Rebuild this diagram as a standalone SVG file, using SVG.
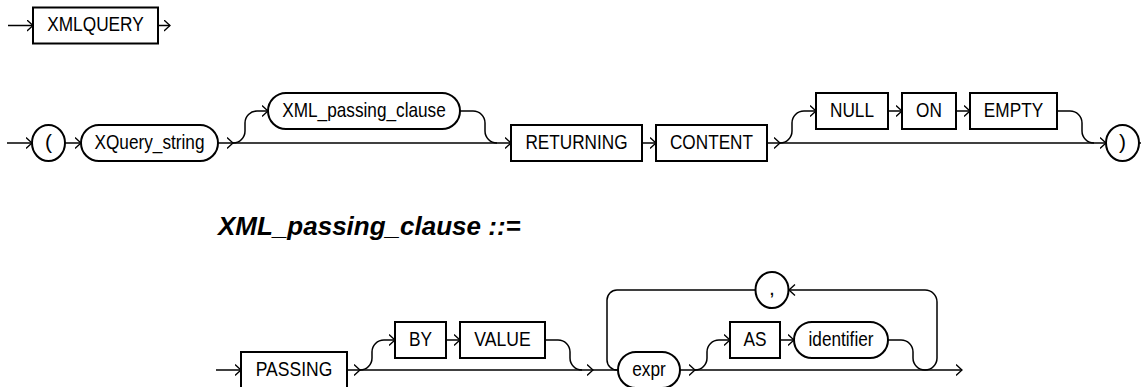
<svg xmlns="http://www.w3.org/2000/svg" width="1141" height="387" viewBox="0 0 1141 387">
<defs>
<marker id="ah" viewBox="0 0 7 12" refX="6.5" refY="6" markerWidth="7" markerHeight="12" markerUnits="userSpaceOnUse" orient="auto">
<path d="M0.5,0.5 L6.5,6 L0.5,11.5" fill="none" stroke="#000" stroke-width="1.3"/>
</marker>
<style>
.box{fill:#fff;stroke:#000;stroke-width:2}
.t{font-family:"Liberation Sans",Arial,sans-serif;font-size:21px;fill:#000;text-anchor:middle}
.c path{fill:none;stroke:#000;stroke-width:1.5}
.a{marker-end:url(#ah)}
.h{font-family:"Liberation Sans",Arial,sans-serif;font-size:26px;font-weight:bold;font-style:italic;fill:#000}
</style>
</defs>
<rect width="1141" height="387" fill="#fff"/>
<g id="connectors" class="c">
<path class="a" d="M8,25.5 H33"/>
<path class="a" d="M158,25.5 H170"/>
<path class="a" d="M7,143 H32"/>
<path class="a" d="M65,143 H81"/>
<path class="a" d="M218,143 H233"/>
<path class="a" d="M233,143 H511"/>
<path class="a" d="M233,143 a12,12 0 0 0 12,-12 v-8 a12,12 0 0 1 12,-12 H268"/>
<path d="M460,111 H473 a12,12 0 0 1 12,12 v8 a12,12 0 0 0 12,12"/>
<path class="a" d="M642,143 H656"/>
<path class="a" d="M767,143 H780"/>
<path class="a" d="M780,143 H1106"/>
<path class="a" d="M780,143 a12,12 0 0 0 12,-12 v-8 a12,12 0 0 1 12,-12 H816"/>
<path class="a" d="M888,111 H902"/>
<path class="a" d="M956,111 H970"/>
<path d="M1057,111 H1070 a12,12 0 0 1 12,12 v8 a12,12 0 0 0 12,12"/>
<path d="M1139,143 H1141"/>
<path class="a" d="M216,370 H241"/>
<path class="a" d="M347,370 H360"/>
<path class="a" d="M360,370 H593"/>
<path class="a" d="M360,370 a12,12 0 0 0 12,-12 v-6 a12,12 0 0 1 12,-12 H395"/>
<path class="a" d="M446,340 H460"/>
<path d="M545,340 H558 a12,12 0 0 1 12,12 v6 a12,12 0 0 0 12,12"/>
<path d="M593,370 H618"/>
<path d="M755,290 H617 a10,10 0 0 0 -10,10 V360 a10,10 0 0 0 10,10"/>
<path class="a" d="M680,370 H695"/>
<path class="a" d="M695,370 H962"/>
<path class="a" d="M695,370 a12,12 0 0 0 12,-12 v-6 a12,12 0 0 1 12,-12 H730"/>
<path class="a" d="M780,340 H794"/>
<path d="M888,340 H901 a12,12 0 0 1 12,12 v6 a12,12 0 0 0 12,12"/>
<path class="a" d="M925,370 a12,12 0 0 0 12,-12 V302 a12,12 0 0 0 -12,-12 H789"/>
</g>
<g id="XMLQUERY"><rect class="box" x="33" y="7.5" width="125" height="36"/><text class="t" x="95.5" y="31" textLength="96.5" lengthAdjust="spacingAndGlyphs">XMLQUERY</text></g>
<g id="lparen"><ellipse class="box" cx="48.5" cy="143" rx="16.5" ry="18"/><text class="t" x="48.5" y="149">(</text></g>
<g id="XQuery_string"><rect class="box" x="81" y="125" width="137" height="36" rx="18"/><text class="t" x="149.5" y="148.5" textLength="110" lengthAdjust="spacingAndGlyphs">XQuery_string</text></g>
<g id="XML_passing_clause_ref"><rect class="box" x="268" y="93" width="192" height="36" rx="18"/><text class="t" x="364" y="116.5" textLength="163.5" lengthAdjust="spacingAndGlyphs">XML_passing_clause</text></g>
<g id="RETURNING"><rect class="box" x="511" y="125" width="131" height="36"/><text class="t" x="576.5" y="148.5" textLength="102.2" lengthAdjust="spacingAndGlyphs">RETURNING</text></g>
<g id="CONTENT"><rect class="box" x="656" y="125" width="111" height="36"/><text class="t" x="711.5" y="148.5" textLength="83.1" lengthAdjust="spacingAndGlyphs">CONTENT</text></g>
<g id="NULL"><rect class="box" x="816" y="93" width="72" height="36"/><text class="t" x="852" y="116.5" textLength="44" lengthAdjust="spacingAndGlyphs">NULL</text></g>
<g id="ON"><rect class="box" x="902" y="93" width="54" height="36"/><text class="t" x="929" y="116.5" textLength="25.8" lengthAdjust="spacingAndGlyphs">ON</text></g>
<g id="EMPTY"><rect class="box" x="970" y="93" width="87" height="36"/><text class="t" x="1013.5" y="116.5" textLength="59.3" lengthAdjust="spacingAndGlyphs">EMPTY</text></g>
<g id="rparen"><ellipse class="box" cx="1122.5" cy="143" rx="16.5" ry="18"/><text class="t" x="1122.5" y="149">)</text></g>
<g id="header"><text class="h" x="218" y="235">XML_passing_clause ::=</text></g>
<g id="PASSING"><rect class="box" x="241" y="352" width="106" height="36"/><text class="t" x="294" y="375.5" textLength="76.5" lengthAdjust="spacingAndGlyphs">PASSING</text></g>
<g id="BY"><rect class="box" x="395" y="322" width="51" height="36"/><text class="t" x="420.5" y="345.5" textLength="23" lengthAdjust="spacingAndGlyphs">BY</text></g>
<g id="VALUE"><rect class="box" x="460" y="322" width="85" height="36"/><text class="t" x="502.5" y="345.5" textLength="56.4" lengthAdjust="spacingAndGlyphs">VALUE</text></g>
<g id="expr"><rect class="box" x="618" y="352" width="62" height="36" rx="18"/><text class="t" x="649" y="375.5" textLength="33.5" lengthAdjust="spacingAndGlyphs">expr</text></g>
<g id="AS"><rect class="box" x="730" y="322" width="50" height="36"/><text class="t" x="755" y="345.5" textLength="23" lengthAdjust="spacingAndGlyphs">AS</text></g>
<g id="identifier"><rect class="box" x="794" y="322" width="94" height="36" rx="18"/><text class="t" x="841" y="345.5" textLength="65" lengthAdjust="spacingAndGlyphs">identifier</text></g>
<g id="comma"><ellipse class="box" cx="772" cy="290" rx="16.5" ry="18"/><text class="t" x="772" y="295">,</text></g>
</svg>
